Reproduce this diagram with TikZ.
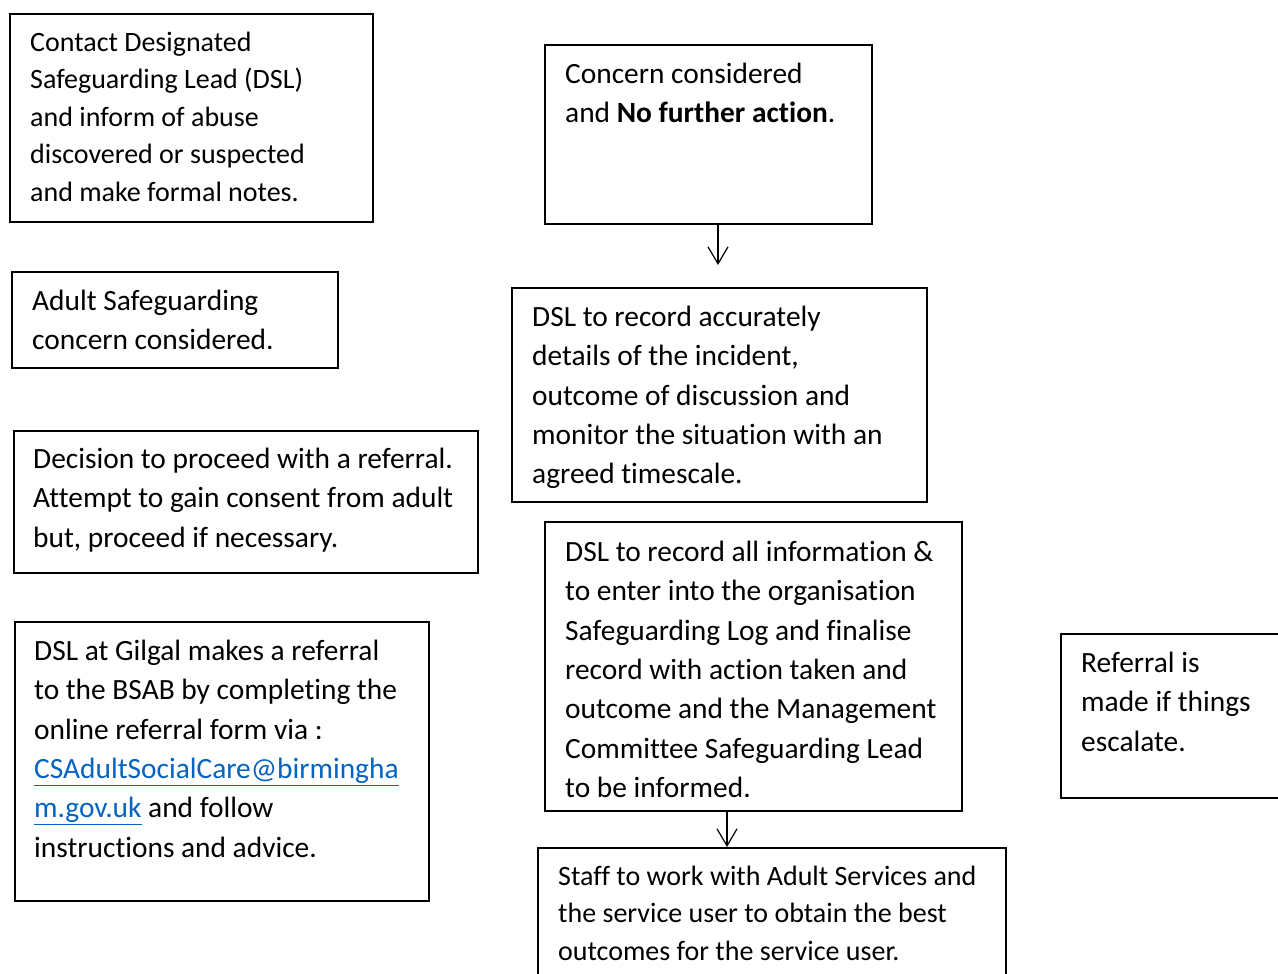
\documentclass[tikz,border=0pt]{standalone}
\usepackage{fontspec}
\setmainfont[Ligatures={NoCommon,NoContextual},RawFeature={-liga;-clig;-dlig}]{Carlito}
\usetikzlibrary{arrows.meta}
\definecolor{linkblue}{HTML}{0563C1}
\newcommand{\fa}{\fontsize{28}{37.5}\selectfont}
\newcommand{\fb}{\fontsize{29.4}{39.4}\selectfont}
\newcommand{\fl}{\rule{0pt}{24pt}}
\begin{document}
\begin{tikzpicture}[x=1pt,y=-1pt,
  box/.style={draw=black, line width=1.8pt, anchor=north west, inner sep=0pt},
  txta/.style={anchor=north west, inner sep=0pt, align=left, font=\fa},
  txtb/.style={anchor=north west, inner sep=0pt, align=left, font=\fb},
  arr/.style={line width=1.2pt, -{Straight Barb[length=17pt,width=20pt,line width=1.2pt]}}]
\useasboundingbox (0,0) rectangle (1278,974);
\clip (0,0) rectangle (1278,974);
% boxes
\node[box, minimum width=363pt, minimum height=208pt] (b1) at (9,13) {};
\node[box, minimum width=326pt, minimum height=96pt] (b2) at (11,271) {};
\node[box, minimum width=464pt, minimum height=142pt] (b3) at (13,430) {};
\node[box, minimum width=414pt, minimum height=279pt] (b4) at (14,621) {};
\node[box, minimum width=327pt, minimum height=179pt] (b5) at (544,44) {};
\node[box, minimum width=415pt, minimum height=214pt] (b6) at (511,287) {};
\node[box, minimum width=417pt, minimum height=289pt] (b7) at (544,521) {};
\node[box, minimum width=468pt, minimum height=160pt] (b8) at (537,847) {};
\node[box, minimum width=260pt, minimum height=164pt] (b9) at (1060,633) {};
% texts
\node[txta] (t1) at (30,27) {\fl Contact Designated\\Safeguarding Lead (DSL)\\and inform of abuse\\discovered or suspected\\and make formal notes.};
\node[txtb] (t2) at (32,286) {\fl Adult Safeguarding\\concern considered.};
\node[txtb] (t3) at (33,444) {\fl Decision to proceed with a referral.\\Attempt to gain consent from adult\\but, proceed if necessary.};
\node[txtb] (t4) at (34,636) {\fl DSL at Gilgal makes a referral\\to the BSAB by completing the\\online referral form via :\\{\color{linkblue}\underline{CSAdultSocialCare@birmingha}}\\{\color{linkblue}\underline{m.gov.uk}} and follow\\instructions and advice.};
\node[txtb] (t5) at (565,59) {\fl Concern considered\\and \textbf{No further action}.};
\node[txtb] (t6) at (532,302) {\fl DSL to record accurately\\details of the incident,\\outcome of discussion and\\monitor the situation with an\\agreed timescale.};
\node[txtb] (t7) at (565,537) {\fl DSL to record all information \&\\to enter into the organisation\\Safeguarding Log and finalise\\record with action taken and\\outcome and the Management\\Committee Safeguarding Lead\\to be informed.};
\node[txta] (t8) at (558,861) {\fl Staff to work with Adult Services and\\the service user to obtain the best\\outcomes for the service user.};
\node[txtb] (t9) at (1081,648) {\fl Referral is\\made if things\\escalate.};
% arrows
\coordinate (a1) at (718,265);
\draw[arr] (a1 |- b5.south) -- (a1);
\coordinate (a2) at (727,0);
\draw[arr] (a2 |- b7.south) -- (a2 |- b8.north);
\end{tikzpicture}
\end{document}
